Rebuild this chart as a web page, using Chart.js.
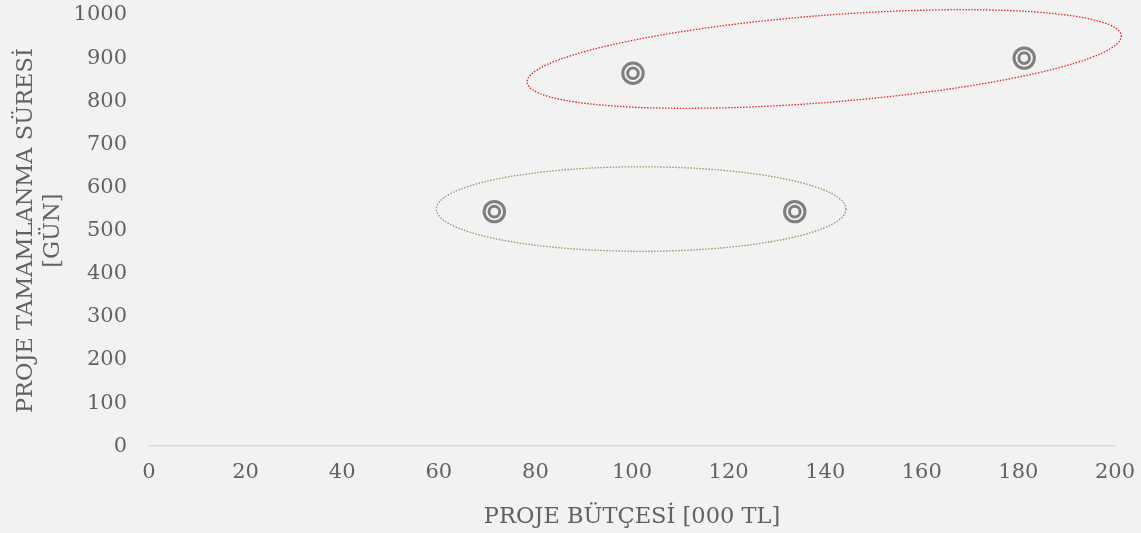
<!DOCTYPE html>
<html>
<head>
<meta charset="utf-8">
<script src="https://cdn.jsdelivr.net/npm/chart.js@4/dist/chart.umd.min.js"></script>
<style>
  html, body { margin: 0; padding: 0; background: #f2f2f2; }
  #wrap { width: 1141px; height: 533px; }
</style>
</head>
<body>
<div id="wrap"><canvas id="chart"></canvas></div>
<script>
// --- Data ---
const budgets = [71.5, 100.2, 133.7, 181.2];      // PROJE BÜTÇESİ [000 TL]
const durations = [544, 865, 544, 900];           // PROJE TAMAMLANMA SÜRESİ [GÜN]
const xTicks = [0, 20, 40, 60, 80, 100, 120, 140, 160, 180, 200];
const yTicks = [0, 100, 200, 300, 400, 500, 600, 700, 800, 900, 1000];

// grouping ellipses, in data units: centre x/y, half-width (x units), half-height (y units), tilt (deg)
const groupEllipses = [
  { cx: 101.9, cy: 550, rx: 42.4, ry: 98, tilt: 0, color: '#8f9a62' },
  { cx: 139.8, cy: 898, rx: 61.7, ry: 101, tilt: -4.5, color: '#e3262b' }
];

const FONT = '"DejaVu Serif", "Liberation Serif", serif';
const TEXT = '#626262';

const points = budgets.map((b, i) => ({ x: b, y: durations[i] }));

// --- Ellipse plugin (draws through the chart scales) ---
const ellipsePlugin = {
  id: 'groupEllipses',
  beforeDatasetsDraw(chart) {
    const { ctx, scales: { x, y } } = chart;
    const pxX = x.getPixelForValue(1) - x.getPixelForValue(0);
    const pxY = y.getPixelForValue(0) - y.getPixelForValue(1);
    groupEllipses.forEach(e => {
      ctx.save();
      ctx.beginPath();
      ctx.ellipse(x.getPixelForValue(e.cx), y.getPixelForValue(e.cy),
        e.rx * pxX, e.ry * pxY, e.tilt * Math.PI / 180, 0, Math.PI * 2);
      ctx.setLineDash([1.5, 1.5]);
      ctx.lineWidth = 1.3;
      ctx.strokeStyle = e.color;
      ctx.stroke();
      ctx.restore();
    });
  }
};

function pointSet(radius) {
  return {
    data: points,
    pointStyle: 'circle',
    pointRadius: radius,
    pointHoverRadius: radius,
    pointBorderWidth: 3,
    pointBorderColor: '#7f7f7f',
    pointBackgroundColor: 'rgba(0,0,0,0)',
    showLine: false
  };
}

new Chart(document.getElementById('chart'), {
  type: 'scatter',
  data: { datasets: [pointSet(10.2), pointSet(5.3)] },
  options: {
    responsive: true,
    maintainAspectRatio: false,
    animation: false,
    layout: { padding: { top: 15, right: 26, left: 2, bottom: 2 } },
    plugins: { legend: { display: false }, tooltip: { enabled: false } },
    scales: {
      x: {
        type: 'linear', min: 0, max: 200,
        afterBuildTicks: ax => { ax.ticks = xTicks.map(v => ({ value: v })); },
        afterFit: ax => { ax.paddingRight = 0; ax.paddingLeft = 0; },
        grid: { display: false, drawTicks: false },
        border: { display: true, color: '#d9d9d9', width: 1.5 },
        ticks: { color: TEXT, font: { family: FONT, size: 21 }, padding: 13.3, callback: v => String(v) },
        title: { display: true, text: 'PROJE BÜTÇESİ [000 TL]', color: TEXT, font: { family: FONT, size: 22.5 }, padding: { top: 6, bottom: 0 } }
      },
      y: {
        type: 'linear', min: 0, max: 1000,
        afterBuildTicks: ax => { ax.ticks = yTicks.map(v => ({ value: v })); },
        afterFit: ax => { ax.paddingTop = 0; ax.paddingBottom = 0; ax.width = 147; },
        grid: { display: false, drawTicks: false },
        border: { display: false },
        ticks: { color: TEXT, font: { family: FONT, size: 21 }, padding: 22, callback: v => String(v) },
        title: { display: true, text: ['PROJE TAMAMLANMA SÜRESİ', '[GÜN]'], color: TEXT, font: { family: FONT, size: 22.5, lineHeight: 1.2 }, padding: { top: 11, bottom: 12 } }
      }
    }
  },
  plugins: [ellipsePlugin]
});
</script>
</body>
</html>
